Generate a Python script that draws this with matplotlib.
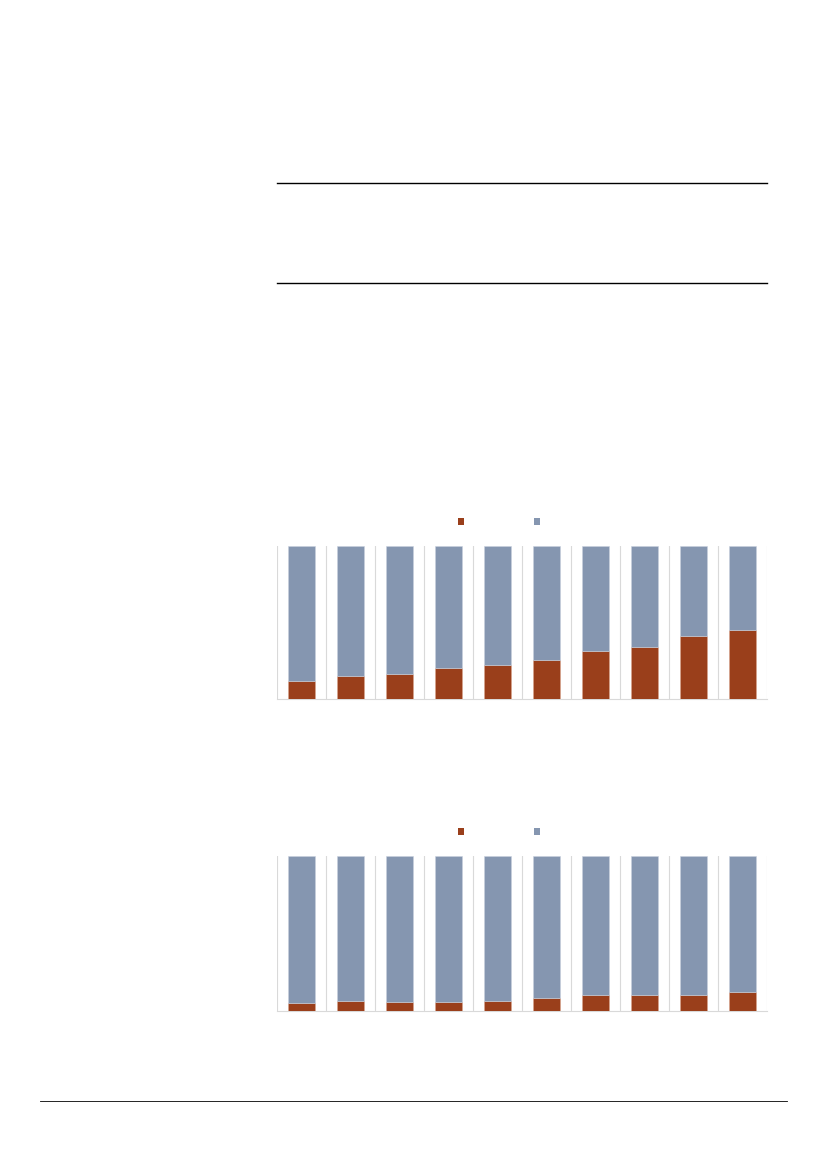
import matplotlib
matplotlib.use("Agg")
import matplotlib.pyplot as plt
from matplotlib.patches import Patch
import numpy as np

# share of the first series (red) in each 100% stacked bar
top_share = [0.118, 0.151, 0.166, 0.204, 0.225, 0.256, 0.311, 0.337, 0.414, 0.453]
bottom_share = [0.049, 0.065, 0.058, 0.058, 0.065, 0.086, 0.103, 0.103, 0.103, 0.125]
categories = list(range(10))

red = "#9A3F1B"
blue = "#8596B0"
grid_col = "#D9D9D9"

fig = plt.figure(figsize=(8.27, 11.69), dpi=100)

# rules at the top and the footer line
for y in [1 - 183/1169, 1 - 283/1169]:
    fig.add_artist(plt.Line2D([277/827, 767/827], [y, y], color="black", lw=1.0))
fig.add_artist(plt.Line2D([40/827, 787/827], [1 - 1101/1169]*2, color="black", lw=0.6))


def stacked(rect, share, leg_y):
    ax = fig.add_axes(rect)
    x = np.arange(len(categories))
    share = np.array(share)
    ax.bar(x, share, width=0.55, color=red, edgecolor="#D9A68F", linewidth=0.4, zorder=3)
    ax.bar(x, 1 - share, bottom=share, width=0.55, color=blue,
           edgecolor="#C9D1DE", linewidth=0.4, zorder=3)
    ax.set_xlim(-0.5, len(categories) - 0.5)
    ax.set_ylim(0, 1)
    for b in np.arange(-0.5, len(categories), 1.0):
        ax.axvline(b, color=grid_col, lw=0.8, zorder=1)
    for s in ["top", "left", "right"]:
        ax.spines[s].set_visible(False)
    ax.spines["bottom"].set_color(grid_col)
    ax.spines["bottom"].set_linewidth(0.8)
    ax.set_xticks([])
    ax.set_yticks([])
    handles = [Patch(facecolor=red), Patch(facecolor=blue)]
    fig.legend(handles, ["", ""], ncol=2, loc="center", bbox_to_anchor=(499/827, leg_y),
               frameon=False, fontsize=7, handlelength=0.7, handleheight=0.7,
               handletextpad=0.0, columnspacing=7.1)
    return ax


stacked([277/827, 1 - 699/1169, 490/827, 153/1169], top_share, 1 - 522/1169)
stacked([277/827, 1 - 1011/1169, 490/827, 155/1169], bottom_share, 1 - 832/1169)

fig.savefig("out.png", dpi=100)
